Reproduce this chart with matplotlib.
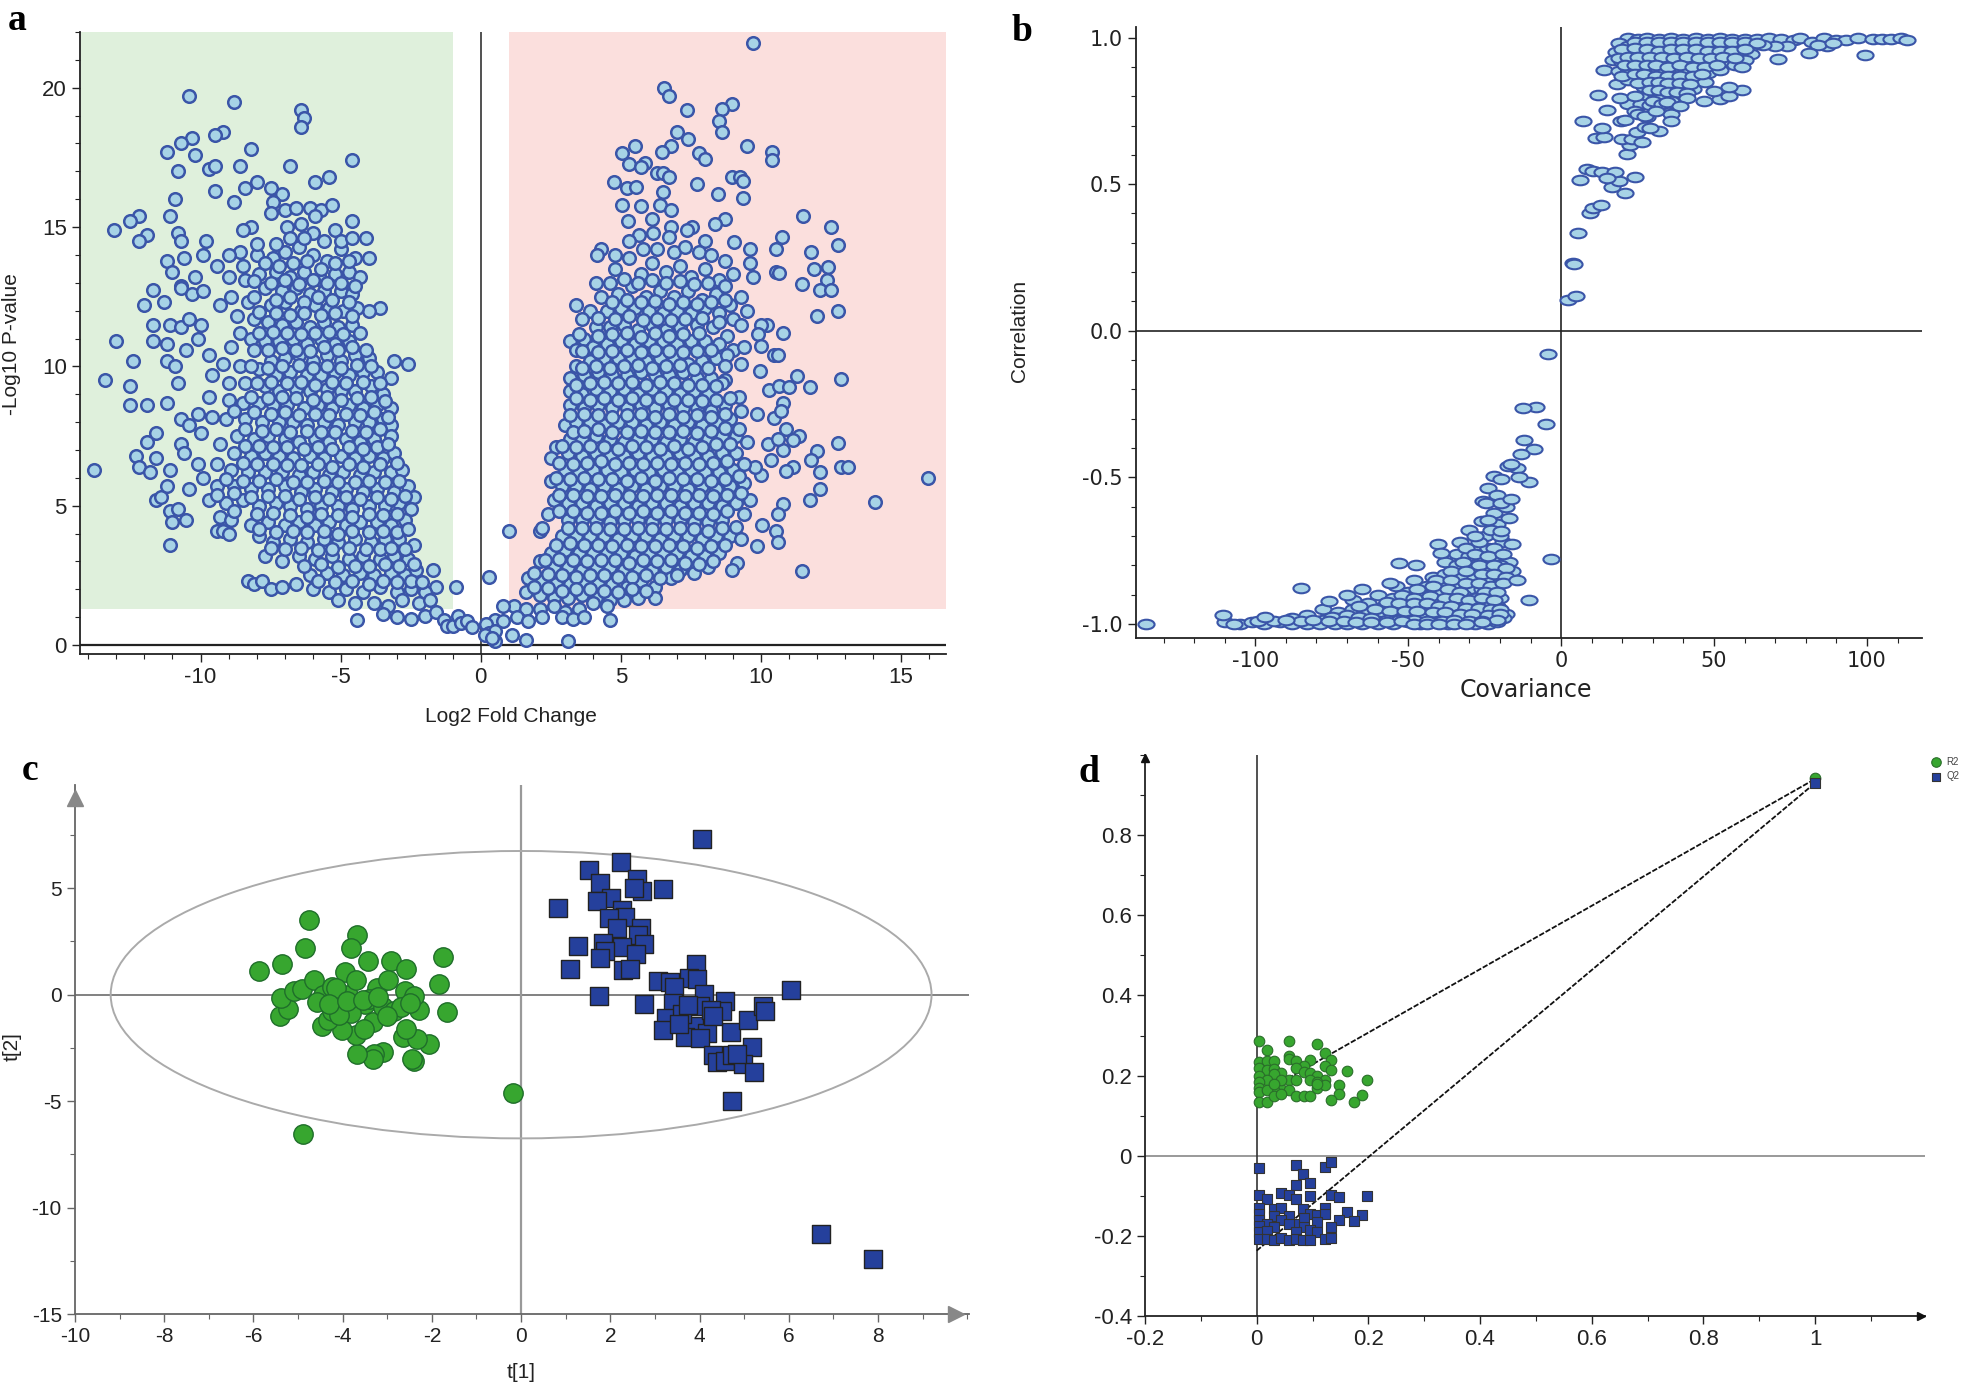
import matplotlib
matplotlib.use("Agg")
import matplotlib.pyplot as plt
from matplotlib.path import Path
from matplotlib.patches import Ellipse
from matplotlib.ticker import MultipleLocator, FixedLocator
from matplotlib.transforms import Affine2D

W, H = 1961, 1384

down_sparse = [(-10.4,19.7),(-8.8,19.5),(-6.4,19.2),(-6.3,18.9),(-6.4,18.6),(-9.2,18.4),(-9.5,18.3),(-10.3,18.2),(-10.7,18.0),(-11.2,17.7),(-10.2,17.6),(-8.2,17.8),(-4.6,17.4),(-6.8,17.2),(-8.6,17.2),(-9.7,17.1),(-9.5,17.2),(-10.8,17.0),(-5.4,16.8),(-5.9,16.6),(-8.0,16.6),(-8.4,16.4),(-7.5,16.4),(-9.5,16.3),(-7.1,16.2),(-10.9,16.0),(-8.8,15.9),(-12.2,15.4),(-12.5,15.2),(-11.1,15.4),(-13.1,14.9),(-11.9,14.7),(-12.2,14.5),(-10.8,14.8),(-10.7,14.5),(-8.2,15.0),(-8.5,14.9),(-9.8,14.5),(-4.6,15.2),(-5.2,14.9),(-4.1,14.6),(-4.0,13.9),(-11.2,13.8),(-10.6,13.9),(-11.0,13.4),(-9.9,14.0),(-10.2,13.2),(-10.7,12.9),(-10.7,12.8),(-11.7,12.75),(-12.0,12.2),(-11.3,12.3),(-3.6,12.1),(-4.0,12.0),(-10.3,12.6),(-9.9,12.7),(-11.7,11.5),(-11.1,11.5),(-10.7,11.4),(-10.4,11.7),(-10.0,11.5),(-11.7,10.9),(-13.0,10.9),(-11.2,10.8),(-10.1,11.0),(-10.5,10.6),(-12.4,10.2),(-11.2,10.2),(-10.9,10.0),(-3.1,10.2),(-2.6,10.1),(-3.2,9.6),(-13.4,9.5),(-12.5,9.3),(-10.8,9.4),(-12.5,8.6),(-11.9,8.6),(-11.2,8.7),(-10.7,8.1),(-10.1,8.3),(-10.4,7.9),(-10.0,7.6),(-11.6,7.6),(-11.9,7.3),(-10.7,7.2),(-10.6,6.9),(-12.3,6.8),(-11.6,6.7),(-12.2,6.4),(-11.8,6.2),(-13.8,6.3),(-11.1,6.3),(-10.1,6.5),(-11.6,5.2),(-11.4,5.3),(-11.2,5.7),(-10.4,5.6),(-11.1,4.8),(-10.8,4.9),(-11.0,4.4),(-10.5,4.5),(-11.1,3.6),(-9.4,4.1),(-9.2,4.1),(-9.0,4.0),(-8.3,2.3),(-8.1,2.2),(-7.8,2.3),(-7.5,2.0),(-7.1,2.1),(-6.6,2.2),(-4.4,0.9),(-1.7,2.7),(-1.6,2.1),(-0.9,2.1)]
down_core = [(-8.0,14.0),(-7.4,13.9),(-7.0,14.1),(-6.5,14.3),(-6.0,14.0),(-5.5,13.8),(-5.0,14.2),(-4.5,13.9),(-8.5,13.6),(-7.9,13.3),(-7.3,13.4),(-6.8,13.2),(-6.3,13.4),(-5.7,13.1),(-5.2,13.3),(-4.7,13.4),(-4.3,13.2),(-9.0,13.2),(-8.4,13.1),(-7.7,12.8),(-7.1,12.7),(-6.6,12.8),(-6.1,12.6),(-5.6,12.7),(-5.0,12.7),(-4.6,12.6),(-8.9,12.5),(-8.3,12.3),(-7.5,12.2),(-7.0,12.3),(-6.4,12.0),(-5.9,12.2),(-5.4,12.1),(-4.9,12.0),(-4.4,12.1),(-9.3,12.2),(-8.7,11.8),(-8.1,11.7),(-7.6,11.6),(-7.1,11.5),(-6.6,11.6),(-6.1,11.4),(-5.6,11.6),(-5.1,11.4),(-4.6,11.5),(-8.6,11.2),(-8.2,11.0),(-7.7,10.9),(-7.2,10.9),(-6.7,11.0),(-6.2,10.8),(-5.7,11.0),(-5.2,10.8),(-4.7,10.9),(-4.3,11.2),(-8.9,10.7),(-8.1,10.6),(-7.5,10.2),(-7.0,10.3),(-6.5,10.4),(-6.0,10.2),(-5.5,10.4),(-5.0,10.2),(-4.5,10.4),(-4.0,10.3),(-9.7,10.4),(-9.2,10.1),(-8.6,10.0),(-7.9,9.9),(-7.3,9.7),(-6.8,9.8),(-6.2,9.7),(-5.7,9.7),(-5.2,9.8),(-4.7,9.7),(-4.2,9.8),(-3.7,9.8),(-9.6,9.7),(-9.0,9.4),(-8.4,9.4),(-7.7,9.3),(-7.2,9.1),(-6.6,9.2),(-6.1,9.1),(-5.5,9.2),(-5.0,9.1),(-4.5,9.1),(-3.9,9.3),(-3.5,9.0),(-9.7,8.9),(-9.0,8.8),(-8.5,8.7),(-7.9,8.7),(-7.4,8.6),(-6.9,8.6),(-6.3,8.5),(-5.8,8.6),(-5.3,8.5),(-4.7,8.6),(-4.2,8.5),(-3.7,8.6),(-3.2,8.5),(-9.6,8.2),(-9.1,8.1),(-8.4,8.1),(-7.8,8.0),(-7.2,8.0),(-6.7,8.0),(-6.2,7.9),(-5.6,8.0),(-5.1,7.9),(-4.5,8.0),(-4.0,8.0),(-3.5,8.1),(-3.2,7.9),(-8.7,7.5),(-8.1,7.4),(-7.6,7.5),(-7.0,7.4),(-6.5,7.3),(-5.9,7.4),(-5.4,7.3),(-4.8,7.4),(-4.3,7.3),(-3.8,7.4),(-3.2,7.5),(-9.3,7.2),(-8.8,6.9),(-8.2,6.8),(-7.7,6.9),(-7.2,6.8),(-6.7,6.7),(-6.1,6.8),(-5.6,6.7),(-5.0,6.8),(-4.5,6.7),(-4.0,6.8),(-3.5,6.7),(-3.1,6.9),(-9.4,6.5),(-8.9,6.3),(-8.3,6.2),(-7.7,6.2),(-7.1,6.2),(-6.5,6.1),(-6.0,6.2),(-5.4,6.1),(-4.9,6.2),(-4.3,6.1),(-3.8,6.2),(-3.2,6.2),(-2.8,6.3),(-9.9,6.0),(-9.4,5.7),(-8.8,5.7),(-8.2,5.6),(-7.6,5.6),(-7.0,5.7),(-6.4,5.5),(-5.9,5.6),(-5.3,5.5),(-4.8,5.6),(-4.2,5.5),(-3.7,5.6),(-3.1,5.5),(-2.6,5.7),(-2.4,5.3),(-9.7,5.2),(-9.1,5.1),(-8.5,5.2),(-7.9,5.0),(-7.3,5.1),(-6.8,5.0),(-6.2,4.9),(-5.7,5.0),(-5.1,5.0),(-4.6,4.9),(-4.0,5.0),(-3.4,5.0),(-2.9,5.1),(-2.5,4.9),(-9.3,4.6),(-8.9,4.5),(-8.2,4.3),(-7.6,4.4),(-7.0,4.3),(-6.5,4.4),(-5.9,4.3),(-5.4,4.4),(-4.8,4.3),(-4.3,4.4),(-3.7,4.4),(-3.2,4.3),(-2.7,4.5),(-7.9,3.9),(-7.4,3.7),(-6.8,3.8),(-6.2,3.7),(-5.6,3.8),(-5.1,3.7),(-4.5,3.8),(-3.9,3.7),(-3.4,3.8),(-2.9,3.8),(-2.4,3.6),(-7.7,3.2),(-7.1,3.0),(-6.5,3.2),(-5.9,3.1),(-5.3,3.2),(-4.7,3.1),(-4.2,3.2),(-3.6,3.1),(-3.1,3.2),(-2.6,3.1),(-6.1,2.5),(-5.5,2.6),(-4.9,2.5),(-4.3,2.6),(-3.8,2.5),(-3.2,2.6),(-2.7,2.5),(-2.3,2.7),(-6.0,2.0),(-5.4,1.9),(-4.8,2.0),(-4.2,1.9),(-3.6,2.1),(-3.0,1.9),(-2.5,2.0),(-2.0,1.9),(-5.1,1.6),(-4.5,1.5),(-3.8,1.5),(-3.3,1.4),(-2.8,1.6),(-2.2,1.5),(-1.8,1.6),(-3.5,1.1),(-3.0,1.0),(-2.5,0.95),(-2.0,1.05),(-1.6,1.2),(-1.3,0.9),(-1.2,0.7),(-1.0,0.7),(-0.8,1.05),(-0.7,0.8),(-0.5,0.85),(-0.3,0.65)]
down_fill = [(-7.4,15.9),(-7.0,15.6),(-6.6,15.7),(-6.1,15.7),(-5.7,15.6),(-5.3,15.8),(-5.9,15.4),(-7.5,15.5),(-6.9,15.0),(-6.4,15.1),(-6.0,14.8),(-7.3,14.4),(-6.8,14.6),(-6.3,14.6),(-5.6,14.5),(-5.0,14.5),(-4.6,14.6),(-8.0,14.4),(-8.6,14.1),(-9.0,14.0),(-9.4,13.6),(-7.7,13.7),(-7.2,13.6),(-6.7,13.7),(-6.2,13.8),(-5.7,13.5),(-5.2,13.7),(-4.7,13.8),(-8.1,13.05),(-7.5,13.0),(-7.0,13.1),(-6.5,12.95),(-6.0,13.1),(-5.5,13.0),(-5.0,13.0),(-4.5,12.9),(-8.1,12.5),(-7.3,12.4),(-6.8,12.5),(-6.3,12.3),(-5.8,12.5),(-5.3,12.4),(-4.7,12.3),(-7.9,11.95),(-7.3,11.9),(-6.8,11.85),(-6.3,11.9),(-5.7,11.85),(-5.2,11.9),(-4.6,11.8),(-7.9,11.2),(-7.4,11.25),(-6.9,11.2),(-6.4,11.15),(-5.9,11.2),(-5.4,11.25),(-4.9,11.15),(-7.6,10.6),(-7.1,10.65),(-6.6,10.6),(-6.1,10.55),(-5.6,10.7),(-5.1,10.6),(-4.6,10.7),(-4.1,10.6),(-8.2,10.0),(-7.6,9.95),(-7.1,10.0),(-6.5,10.05),(-6.0,9.95),(-5.5,10.0),(-5.0,9.95),(-4.4,10.05),(-3.9,10.0),(-8.0,9.4),(-7.5,9.45),(-6.9,9.4),(-6.4,9.45),(-5.9,9.35),(-5.3,9.45),(-4.8,9.4),(-4.2,9.45),(-3.6,9.4),(-8.2,8.9),(-7.6,8.85),(-7.1,8.9),(-6.6,8.85),(-6.0,8.8),(-5.5,8.9),(-5.0,8.8),(-4.4,8.85),(-3.9,8.9),(-3.4,8.75),(-8.8,8.4),(-8.1,8.35),(-7.5,8.3),(-7.0,8.35),(-6.5,8.25),(-5.9,8.3),(-5.4,8.25),(-4.8,8.3),(-4.3,8.25),(-3.8,8.35),(-3.3,8.2),(-8.4,7.75),(-7.8,7.7),(-7.3,7.75),(-6.8,7.65),(-6.2,7.7),(-5.7,7.65),(-5.2,7.65),(-4.6,7.7),(-4.1,7.65),(-3.6,7.75),(-8.4,7.15),(-7.9,7.15),(-7.4,7.1),(-6.9,7.1),(-6.3,7.05),(-5.8,7.1),(-5.3,7.05),(-4.7,7.1),(-4.2,7.05),(-3.7,7.1),(-3.3,7.2),(-8.5,6.55),(-8.0,6.5),(-7.4,6.5),(-6.9,6.45),(-6.4,6.45),(-5.8,6.5),(-5.3,6.4),(-4.7,6.5),(-4.2,6.4),(-3.6,6.5),(-3.0,6.55),(-9.1,5.95),(-8.5,5.9),(-7.9,5.9),(-7.3,5.95),(-6.7,5.85),(-6.2,5.85),(-5.6,5.9),(-5.1,5.85),(-4.5,5.85),(-4.0,5.9),(-3.4,5.85),(-2.9,5.9),(-9.4,5.4),(-8.8,5.45),(-8.2,5.3),(-7.6,5.35),(-7.0,5.35),(-6.5,5.25),(-5.9,5.3),(-5.4,5.25),(-4.8,5.3),(-4.3,5.25),(-3.7,5.3),(-3.2,5.25),(-2.7,5.35),(-8.8,4.8),(-8.0,4.7),(-7.4,4.75),(-6.8,4.65),(-6.2,4.6),(-5.7,4.7),(-5.1,4.65),(-4.6,4.6),(-4.0,4.7),(-3.5,4.65),(-3.0,4.7),(-7.9,4.15),(-7.3,4.05),(-6.7,4.1),(-6.2,4.05),(-5.6,4.1),(-5.1,4.0),(-4.6,4.1),(-4.0,4.05),(-3.5,4.1),(-3.0,4.05),(-2.6,4.15),(-7.5,3.5),(-7.0,3.45),(-6.4,3.5),(-5.8,3.4),(-5.3,3.45),(-4.7,3.5),(-4.1,3.45),(-3.6,3.45),(-3.2,3.5),(-2.7,3.45),(-6.3,2.85),(-5.7,2.9),(-5.1,2.8),(-4.5,2.85),(-4.0,2.85),(-3.4,2.9),(-2.9,2.85),(-2.4,2.9),(-5.8,2.3),(-5.2,2.25),(-4.6,2.3),(-4.0,2.2),(-3.5,2.3),(-3.0,2.25),(-2.5,2.3),(-2.1,2.25)]
up_sparse = [(9.7,21.6),(6.55,20.0),(6.7,19.7),(7.35,19.2),(8.95,19.4),(8.6,19.25),(8.5,18.8),(8.6,18.4),(7.0,18.4),(7.4,18.15),(6.8,17.9),(9.5,17.9),(5.5,17.9),(5.05,17.65),(6.45,17.7),(7.8,17.65),(8.0,17.45),(10.4,17.7),(10.4,17.4),(5.3,17.25),(5.85,17.3),(5.7,17.15),(6.3,16.95),(6.5,16.95),(6.7,16.8),(8.95,16.8),(9.25,16.8),(9.35,16.65),(4.75,16.6),(7.7,16.55),(5.2,16.4),(5.55,16.45),(8.45,16.2),(6.5,16.25),(9.35,16.05),(5.05,15.8),(5.7,15.75),(6.4,15.8),(6.8,15.6),(6.1,15.3),(5.25,15.2),(8.7,15.3),(11.5,15.4),(8.35,15.1),(12.5,15.0),(7.55,15.0),(6.8,15.0),(7.35,14.9),(6.15,14.8),(5.65,14.7),(6.7,14.65),(10.75,14.65),(8.0,14.5),(9.05,14.45),(9.6,14.2),(10.55,14.2),(12.75,14.35),(11.8,14.1),(4.3,14.2),(4.15,14.0),(11.9,13.5),(12.4,13.55),(10.55,13.4),(10.65,13.35),(9.6,13.7),(9.7,13.2),(11.45,12.95),(12.35,13.1),(12.1,12.75),(12.5,12.75),(12.75,12.0),(12.0,11.8),(10.2,11.5),(10.0,11.5),(10.8,11.2),(9.9,11.15),(10.0,10.75),(10.45,10.4),(10.6,10.4),(9.95,9.85),(11.3,9.65),(12.85,9.55),(10.3,9.15),(10.65,9.3),(11.0,9.25),(11.75,9.25),(10.8,8.7),(9.85,8.3),(10.45,8.15),(10.7,8.4),(10.9,7.75),(11.35,7.5),(12.75,7.25),(11.15,7.35),(10.8,7.0),(10.25,7.2),(10.6,7.4),(12.0,6.95),(11.8,6.65),(12.85,6.4),(13.1,6.4),(11.15,6.4),(10.9,6.25),(12.1,6.2),(15.95,6.0),(10.35,6.65),(10.0,6.1),(9.8,6.4),(12.1,5.6),(11.75,5.2),(14.05,5.15),(10.8,5.05),(10.6,4.7),(10.05,4.3),(10.55,4.1),(10.6,3.7),(9.85,3.55),(11.45,2.65),(9.15,2.95),(8.95,2.7),(1.0,4.1),(2.1,4.1),(2.2,4.2),(0.3,2.45),(4.6,0.9),(3.1,0.15),(1.6,0.2),(1.1,0.35),(0.5,0.15)]
up_core = [(3.4,12.2),(3.9,12.0),(4.3,12.5),(4.1,13.0),(4.8,13.5),(5.3,13.9),(5.7,13.3),(6.1,13.7),(6.6,13.4),(7.1,13.6),(7.5,13.2),(8.0,13.5),(8.5,13.1),(9.0,13.3),(4.9,12.6),(5.4,12.9),(5.9,12.5),(6.4,12.7),(6.9,12.5),(7.4,12.7),(7.9,12.4),(8.4,12.6),(8.9,12.2),(9.3,12.5),(4.5,12.0),(5.0,12.1),(5.5,12.1),(6.0,12.0),(6.5,11.9),(7.0,12.0),(7.5,11.9),(8.0,12.1),(8.5,11.9),(9.0,11.7),(9.5,12.0),(3.2,10.9),(3.7,11.0),(4.1,11.4),(4.6,11.4),(5.1,11.5),(5.6,11.3),(6.1,11.5),(6.6,11.3),(7.1,11.4),(7.7,11.5),(8.3,11.4),(8.8,11.1),(9.3,11.5),(3.4,10.6),(4.0,10.7),(4.5,10.8),(5.0,10.9),(5.5,10.8),(6.0,10.9),(6.5,10.9),(7.0,10.8),(7.5,10.9),(8.0,10.9),(8.5,10.8),(9.0,10.6),(9.4,10.7),(3.4,10.0),(3.9,10.2),(4.4,10.3),(4.9,10.3),(5.4,10.3),(5.9,10.2),(6.4,10.3),(6.9,10.3),(7.4,10.1),(7.9,10.2),(8.4,10.3),(9.3,10.1),(3.2,9.6),(3.7,9.7),(4.2,9.8),(4.7,9.7),(5.2,9.7),(5.7,9.8),(6.2,9.7),(6.7,9.7),(7.2,9.8),(7.7,9.6),(8.2,9.6),(8.7,9.5),(3.2,9.1),(3.6,9.0),(4.1,9.2),(4.6,9.1),(5.1,9.2),(5.6,9.0),(6.1,9.2),(6.6,9.1),(7.1,9.0),(7.6,9.1),(8.1,9.0),(8.6,9.4),(3.2,8.6),(3.7,8.5),(4.2,8.6),(4.7,8.5),(5.2,8.5),(5.7,8.6),(6.2,8.5),(6.7,8.6),(7.2,8.5),(7.7,8.5),(8.2,8.4),(8.7,8.6),(9.2,8.9),(3.0,7.9),(3.4,8.0),(3.9,8.0),(4.4,7.9),(4.9,8.0),(5.4,8.0),(5.9,7.9),(6.4,8.0),(6.9,7.9),(7.4,8.0),(7.9,7.9),(8.4,8.0),(8.9,8.1),(9.3,8.4),(3.2,7.4),(3.6,7.4),(4.1,7.5),(4.6,7.4),(5.1,7.3),(5.6,7.4),(6.1,7.4),(6.6,7.3),(7.1,7.4),(7.6,7.3),(8.1,7.4),(8.6,7.5),(9.1,7.5),(9.5,7.3),(2.7,7.1),(3.1,6.9),(3.6,6.8),(4.1,6.9),(4.6,6.8),(5.1,6.8),(5.6,6.9),(6.1,6.8),(6.6,6.8),(7.1,6.9),(7.6,6.8),(8.1,6.8),(8.6,6.9),(9.1,6.9),(2.5,6.7),(3.0,6.3),(3.5,6.2),(4.0,6.3),(4.5,6.3),(5.0,6.2),(5.5,6.3),(6.0,6.2),(6.5,6.3),(7.0,6.2),(7.5,6.3),(8.0,6.2),(8.5,6.2),(9.0,6.3),(9.4,6.5),(2.5,5.9),(2.9,5.7),(3.4,5.7),(3.9,5.6),(4.4,5.7),(4.9,5.6),(5.4,5.7),(5.9,5.6),(6.4,5.7),(6.9,5.7),(7.4,5.6),(7.9,5.7),(8.4,5.6),(8.9,5.7),(9.4,5.8),(2.6,5.2),(3.1,5.1),(3.6,5.1),(4.1,5.0),(4.6,5.1),(5.1,5.1),(5.6,5.0),(6.1,5.1),(6.6,5.1),(7.1,5.0),(7.6,5.1),(8.1,5.1),(8.6,5.0),(9.1,5.1),(9.6,5.2),(2.4,4.7),(3.1,4.5),(3.6,4.5),(4.1,4.5),(4.6,4.4),(5.1,4.5),(5.6,4.5),(6.1,4.4),(6.6,4.5),(7.1,4.5),(7.6,4.4),(8.1,4.4),(8.6,4.5),(9.4,4.7),(2.9,3.9),(3.4,3.9),(3.9,3.9),(4.4,3.9),(4.9,3.8),(5.4,3.9),(5.9,3.9),(6.4,3.8),(6.9,3.9),(7.4,3.9),(7.9,3.8),(8.4,3.9),(8.9,3.9),(9.3,3.8),(2.5,3.3),(3.0,3.4),(3.5,3.3),(4.0,3.3),(4.5,3.3),(5.0,3.3),(5.5,3.2),(6.0,3.3),(6.5,3.3),(7.0,3.3),(7.5,3.2),(8.0,3.2),(8.5,3.3),(2.1,3.0),(2.6,2.8),(3.1,2.8),(3.6,2.7),(4.1,2.8),(4.6,2.8),(5.1,2.7),(5.6,2.8),(6.1,2.7),(6.6,2.8),(7.1,2.7),(7.6,2.6),(8.1,2.8),(1.7,2.4),(2.2,2.3),(2.7,2.2),(3.2,2.2),(3.7,2.3),(4.2,2.2),(4.7,2.2),(5.2,2.1),(5.7,2.3),(6.2,2.1),(6.8,2.4),(1.6,1.9),(2.1,1.8),(2.6,1.7),(3.1,1.7),(3.6,1.8),(4.1,1.7),(4.6,1.6),(5.1,1.6),(5.6,1.7),(6.2,1.7),(1.2,1.4),(1.6,1.3),(2.1,1.3),(2.6,1.4),(3.0,1.2),(3.5,1.3),(4.0,1.5),(4.5,1.4),(0.8,1.4),(1.3,1.0),(1.7,0.85),(2.2,1.0),(2.9,1.0),(3.3,0.95),(3.7,1.0),(0.5,0.9),(0.8,0.85),(0.2,0.75),(0.3,0.45),(0.5,0.5),(0.15,0.35),(0.4,0.25)]
up_fill = [(4.8,14.0),(5.3,14.5),(5.8,14.2),(6.3,14.2),(6.9,14.1),(7.3,14.3),(7.8,14.1),(8.2,14.0),(8.7,13.8),(4.6,13.0),(5.1,13.15),(5.6,13.0),(6.1,13.1),(6.6,13.0),(7.1,13.05),(7.6,12.95),(8.1,13.0),(8.7,12.9),(4.7,12.3),(5.2,12.4),(5.7,12.3),(6.2,12.35),(6.7,12.25),(7.2,12.3),(7.7,12.25),(8.2,12.3),(8.7,12.4),(3.6,11.7),(4.2,11.75),(4.8,11.7),(5.3,11.8),(5.8,11.65),(6.3,11.7),(6.8,11.65),(7.3,11.7),(7.9,11.75),(8.5,11.6),(3.5,11.15),(4.2,11.1),(4.7,11.15),(5.2,11.2),(5.7,11.05),(6.2,11.2),(6.7,11.1),(7.2,11.15),(7.8,11.2),(3.6,10.55),(4.2,10.5),(4.7,10.55),(5.2,10.6),(5.7,10.5),(6.2,10.6),(6.7,10.55),(7.2,10.5),(7.7,10.55),(8.2,10.6),(8.8,10.4),(3.6,9.95),(4.1,10.0),(4.6,9.95),(5.1,10.0),(5.6,10.05),(6.1,9.95),(6.6,10.0),(7.1,10.05),(7.6,9.9),(8.1,9.95),(8.7,10.0),(3.4,9.35),(3.9,9.4),(4.4,9.45),(4.9,9.4),(5.4,9.45),(5.9,9.35),(6.4,9.45),(6.9,9.4),(7.4,9.35),(7.9,9.35),(8.4,9.3),(3.4,8.85),(3.9,8.8),(4.4,8.85),(4.9,8.8),(5.4,8.85),(5.9,8.8),(6.4,8.85),(6.9,8.8),(7.4,8.8),(7.9,8.75),(8.4,8.8),(8.9,8.85),(3.2,8.25),(3.7,8.3),(4.2,8.25),(4.7,8.2),(5.2,8.25),(5.7,8.3),(6.2,8.2),(6.7,8.3),(7.2,8.2),(7.7,8.25),(8.2,8.2),(8.7,8.3),(3.3,7.65),(3.7,7.7),(4.2,7.75),(4.7,7.65),(5.2,7.65),(5.7,7.7),(6.2,7.65),(6.7,7.65),(7.2,7.7),(7.7,7.6),(8.2,7.7),(8.7,7.8),(9.2,7.75),(2.9,7.15),(3.4,7.1),(3.9,7.15),(4.4,7.1),(4.9,7.05),(5.4,7.15),(5.9,7.1),(6.4,7.05),(6.9,7.15),(7.4,7.05),(7.9,7.1),(8.4,7.2),(8.9,7.2),(2.8,6.55),(3.3,6.5),(3.8,6.55),(4.3,6.6),(4.8,6.5),(5.3,6.55),(5.8,6.5),(6.3,6.55),(6.8,6.5),(7.3,6.55),(7.8,6.5),(8.3,6.55),(8.8,6.6),(2.7,6.0),(3.2,5.95),(3.7,6.0),(4.2,5.95),(4.7,5.95),(5.2,5.9),(5.7,6.0),(6.2,5.9),(6.7,6.0),(7.2,5.95),(7.7,5.95),(8.2,5.9),(8.7,5.95),(9.2,6.05),(2.8,5.4),(3.3,5.4),(3.8,5.35),(4.3,5.35),(4.8,5.4),(5.3,5.35),(5.8,5.35),(6.3,5.4),(6.8,5.4),(7.3,5.35),(7.8,5.4),(8.3,5.35),(8.8,5.4),(9.3,5.45),(2.8,4.8),(3.3,4.8),(3.8,4.75),(4.3,4.75),(4.8,4.8),(5.3,4.75),(5.8,4.8),(6.3,4.75),(6.8,4.8),(7.3,4.75),(7.8,4.75),(8.3,4.7),(8.8,4.8),(3.1,4.2),(3.6,4.2),(4.1,4.2),(4.6,4.15),(5.1,4.15),(5.6,4.2),(6.1,4.15),(6.6,4.15),(7.1,4.2),(7.6,4.15),(8.1,4.1),(8.6,4.2),(9.1,4.25),(2.7,3.6),(3.2,3.65),(3.7,3.6),(4.2,3.6),(4.7,3.55),(5.2,3.6),(5.7,3.55),(6.2,3.55),(6.7,3.6),(7.2,3.55),(7.7,3.5),(8.2,3.55),(8.7,3.6),(2.3,3.05),(2.8,3.1),(3.3,3.05),(3.8,3.0),(4.3,3.05),(4.8,3.05),(5.3,2.95),(5.8,3.05),(6.3,3.0),(6.8,3.05),(7.3,2.95),(7.8,2.9),(8.3,3.0),(1.9,2.6),(2.4,2.55),(2.9,2.5),(3.4,2.45),(3.9,2.5),(4.4,2.5),(4.9,2.45),(5.4,2.45),(5.9,2.5),(6.4,2.4),(7.0,2.5),(1.9,2.1),(2.4,2.05),(2.9,1.95),(3.4,2.0),(3.9,2.0),(4.4,1.95),(4.9,1.9),(5.4,2.0),(5.9,1.95)]

pos_cov_top = [(22,1.0),(25,.995),(28,1.0),(32,.995),(36,1.0),(40,.995),(44,1.0),(48,.995),(52,1.0),(56,.995),(60,.995),(64,.995),(68,1.0),(72,.995),(76,.99),(78,1.0),(82,.985),(86,1.0),(90,.99),(93,.99),(97,1.0),(102,.995),(105,.995),(108,.995),(111,1.0),(113,.99),(74,.97),(70,.97),(66,.975),(87,.97),(84,.975),(89,.98)]
pos_cov_core = [(19,.98),(22,.97),(26,.975),(30,.97),(34,.98),(38,.975),(42,.98),(46,.97),(50,.97),(54,.975),(58,.97),(62,.97),(18,.95),(21,.945),(24,.95),(28,.95),(31,.945),(35,.95),(39,.945),(43,.945),(47,.945),(51,.945),(55,.95),(59,.94),(62,.945),(17,.925),(20,.915),(23,.92),(26,.925),(30,.92),(33,.92),(37,.915),(41,.92),(45,.92),(49,.915),(53,.92),(57,.905),(60,.925),(14,.89),(19,.885),(22,.895),(25,.89),(29,.885),(32,.89),(36,.885),(40,.89),(44,.885),(48,.88),(52,.89),(59,.9),(18.4,.843),(22,.855),(26,.86),(29,.865),(33,.86),(37,.86),(41,.855),(45,.86),(47,.85),(27,.83),(30,.835),(33,.84),(36,.83),(40,.83),(43,.825),(28,.8),(31,.805),(34,.8),(37,.805),(40,.795),(22,.775),(26,.775),(29,.77),(32,.79),(35,.77),(38,.77),(24,.75),(28,.73),(33,.755),(36,.74)]
pos_cov_fill = [(24,.985),(28,.985),(32,.985),(36,.985),(40,.985),(44,.985),(48,.985),(52,.985),(56,.985),(60,.985),(64,.98),(20,.96),(24,.965),(28,.96),(32,.955),(36,.96),(40,.96),(44,.96),(48,.955),(52,.955),(56,.955),(60,.96),(19,.93),(22,.935),(25,.935),(29,.935),(33,.935),(37,.93),(41,.935),(45,.93),(49,.93),(53,.935),(57,.93),(21,.905),(24,.905),(28,.905),(31,.905),(35,.9),(39,.905),(43,.9),(47,.9),(51,.905),(20,.87),(24,.875),(27,.875),(31,.87),(35,.87),(39,.87),(43,.87),(46,.875),(25,.845),(29,.85),(32,.85),(35,.845),(39,.845),(42,.84),(29,.82),(32,.82),(35,.815),(38,.815),(41,.81),(30,.785),(33,.775),(36,.785)]
pos_cov_sparse = [(2.4,.105),(4.9,.12),(3.9,.23),(4.3,.228),(5.5,.335),(9.4,.40),(10.4,.417),(13,.428),(20.8,.47),(16.5,.49),(6.3,.514),(19,.512),(24,.525),(8.5,.55),(10.4,.545),(13.4,.543),(17.7,.543),(15,.52),(21.6,.603),(22.6,.633),(11.4,.657),(14,.66),(20,.654),(23.2,.654),(26.3,.645),(13.4,.69),(7,.716),(24.7,.677),(32,.68),(27.3,.696),(29,.692),(19.6,.716),(20.8,.72),(36,.716),(15,.752),(25,.74),(27.3,.732),(31,.748),(12,.804),(19.2,.793),(24.3,.802),(46.7,.784),(51.8,.79),(55,.8),(59,.82),(55,.83),(50,.818),(41,.795),(34.5,.78),(39,.768),(99.3,.942),(71,.928),(81,.947)]
neg_cov_sparse = [(-4.3,-.08),(-8.3,-.26),(-12.4,-.265),(-4.9,-.317),(-12,-.373),(-9,-.404),(-13,-.42),(-10.4,-.517),(-14.5,-.467),(-17.4,-.46),(-16.5,-.456),(-13.8,-.498),(-22,-.494),(-19.6,-.506),(-24,-.538),(-21,-.56),(-25.7,-.58),(-24.7,-.588),(-19.6,-.588),(-16.5,-.574),(-17,-.64),(-24,-.644),(-19.6,-.683),(-28,-.70),(-16,-.729),(-40.4,-.729),(-39.4,-.757),(-3.3,-.777),(-53,-.793),(-47.5,-.8),(-14.5,-.85),(-85,-.876),(-10.4,-.92),(-135.8,-1.0),(-110.6,-.97),(-96.7,-.975),(-70,-.903),(-65,-.882),(-56,-.859),(-76,-.922)]
neg_cov_core = [(-22,-.62),(-18,-.6),(-26,-.65),(-21,-.66),(-30,-.68),(-25,-.7),(-33,-.72),(-29,-.74),(-24,-.74),(-19,-.72),(-34,-.76),(-30,-.77),(-26,-.78),(-22,-.77),(-17,-.79),(-38,-.79),(-34,-.8),(-29,-.81),(-24,-.81),(-20,-.8),(-16,-.82),(-42,-.84),(-38,-.83),(-33,-.84),(-28,-.84),(-24,-.85),(-20,-.84),(-48,-.85),(-44,-.87),(-39,-.86),(-34,-.87),(-30,-.88),(-26,-.88),(-21,-.87),(-54,-.87),(-50,-.89),(-45,-.9),(-41,-.89),(-36,-.9),(-32,-.9),(-28,-.91),(-23,-.9),(-20,-.91),(-60,-.9),(-55,-.91),(-51,-.92),(-46,-.93),(-42,-.92),(-38,-.93),(-33,-.93),(-29,-.94),(-25,-.93),(-21,-.94),(-68,-.92),(-63,-.93),(-58,-.94),(-54,-.95),(-49,-.94),(-44,-.95),(-40,-.95),(-35,-.96),(-31,-.96),(-26,-.96),(-22,-.96),(-18,-.965),(-78,-.95),(-73,-.96),(-68,-.95),(-64,-.96),(-59,-.97),(-55,-.975),(-50,-.97),(-46,-.975),(-41,-.975),(-37,-.98),(-32,-.98),(-28,-.98),(-23,-.98),(-19,-.98),(-88,-.98),(-83,-.97),(-78,-.985),(-73,-.98),(-69,-.985),(-64,-.985),(-60,-.99),(-55,-.995),(-110,-.995),(-105,-1.0),(-101,-.995),(-97,-1.0),(-92,-.995),(-88,-1.0),(-83,-1.0),(-79,-1.0),(-74,-1.0),(-70,-1.0),(-65,-1.0),(-60,-1.0),(-55,-1.0),(-50,-.995),(-46,-1.0),(-42,-.995),(-37,-1.0),(-33,-.995),(-28,-1.0),(-24,-1.0),(-21,-.995)]
neg_cov_fill = [(-23,-.68),(-20,-.7),(-27,-.72),(-31,-.74),(-22,-.74),(-28,-.76),(-24,-.77),(-19,-.76),(-32,-.79),(-27,-.8),(-22,-.8),(-18,-.81),(-36,-.82),(-31,-.82),(-26,-.83),(-22,-.83),(-18,-.84),(-41,-.85),(-36,-.85),(-31,-.86),(-27,-.86),(-23,-.87),(-19,-.86),(-47,-.88),(-42,-.87),(-37,-.88),(-33,-.89),(-25,-.89),(-21,-.89),(-52,-.9),(-48,-.91),(-43,-.905),(-38,-.91),(-34,-.91),(-30,-.92),(-26,-.91),(-22,-.92),(-57,-.925),(-53,-.93),(-48,-.93),(-44,-.93),(-40,-.94),(-36,-.94),(-31,-.945),(-27,-.945),(-23,-.95),(-20,-.95),(-66,-.94),(-61,-.95),(-56,-.955),(-51,-.955),(-47,-.955),(-42,-.96),(-38,-.96),(-33,-.965),(-29,-.965),(-24,-.97),(-20,-.965),(-75,-.975),(-70,-.97),(-66,-.975),(-62,-.98),(-57,-.985),(-53,-.985),(-48,-.985),(-44,-.99),(-39,-.99),(-35,-.985),(-30,-.99),(-26,-.99),(-21,-.985),(-85,-.99),(-81,-.985),(-76,-.99),(-71,-.99),(-67,-.995),(-62,-.995),(-57,-.995),(-52,-.99),(-48,-1.0),(-44,-1.0),(-40,-1.0),(-35,-1.0),(-31,-1.0),(-26,-.995),(-107,-1.0),(-99,-.99),(-94,-.99),(-90,-.985)]

green_t1 = [-5.87,-5.35,-4.75,-4.84,-3.67,-3.82,-3.44,-2.92,-2.58,-1.76,-1.83,-1.66,-2.28,-2.07,-2.4,-2.44,-2.65,-2.33,-2.58,-3.09,-3.29,-3.33,-3.67,-3.71,-4.02,-4.46,-4.33,-3.31,-3.53,-5.4,-5.22,-5.39,-5.08,-4.91,-4.65,-4.44,-4.23,-3.88,-3.95,-3.71,-3.24,-2.99,-2.61,-2.4,-3.5,-3.81,-4.23,-4.58,-4.09,-3.4,-3.1,-2.85,-2.7,-3.0,-2.5,-4.15,-4.3,-3.9,-3.55,-3.2,-0.18,-4.89]
green_t2 = [1.1,1.45,3.5,2.2,2.8,2.2,1.6,1.6,1.2,1.75,0.5,-0.8,-0.7,-2.3,-3.1,-3.0,-2.0,-2.1,-1.6,-2.7,-2.8,-3.0,-2.8,-1.9,-1.65,-1.45,-1.2,-1.3,-1.6,-1.0,-0.65,-0.15,0.15,0.25,0.7,0.0,0.35,0.0,1.05,0.7,0.3,0.7,0.15,-0.05,-0.45,-0.85,-0.75,-0.35,-0.95,-0.2,-0.6,-0.75,-0.6,-1.0,-0.4,0.3,-0.45,-0.3,-0.25,-0.1,-4.6,-6.55]
blue_t1 = [4.06,2.23,1.52,2.6,1.76,2.7,3.17,2.54,2.02,1.69,0.82,2.26,2.34,1.97,2.16,2.68,2.62,2.75,2.26,1.83,1.87,1.76,1.27,1.1,2.57,2.28,2.44,1.75,2.75,3.91,3.06,3.34,3.77,3.95,3.43,4.09,4.58,3.41,4.02,4.51,3.24,3.17,3.88,3.67,4.16,4.02,4.7,5.08,5.43,5.47,6.04,5.18,4.3,4.4,4.56,4.72,4.98,5.22,4.72,6.73,7.88,3.6,3.75,4.25,3.55,4.3,4.85]
blue_t2 = [7.33,6.25,5.85,5.45,5.25,4.85,4.95,5.0,4.55,4.4,4.05,4.0,3.65,3.6,3.15,3.15,2.8,2.4,2.25,2.45,2.05,1.7,2.3,1.2,1.9,1.15,1.2,-0.05,-0.45,1.45,0.65,0.6,0.8,0.75,0.35,0.05,-0.3,-0.4,-0.55,-0.75,-1.1,-1.65,-1.45,-2.0,-1.8,-2.05,-1.75,-1.2,-0.55,-0.75,0.2,-2.45,-2.85,-3.15,-3.1,-2.85,-3.25,-3.65,-5.0,-11.25,-12.4,-0.9,-0.5,-0.7,-1.4,-1.0,-2.8]

r2_x = [.005,.058,.018,.108,.122,.058,.058,.07,.096,.134,.005,.018,.031,.005,.085,.122,.07,.134,.161,.018,.031,.044,.085,.096,.108,.005,.031,.018,.058,.07,.096,.122,.108,.198,.148,.005,.005,.005,.044,.031,.058,.018,.148,.188,.134,.174,.07,.085,.096,.005,.018,.031,.044,.108,.122,.044,.031,.108,1.0]
r2_y = [.286,.286,.264,.28,.257,.25,.242,.237,.24,.24,.235,.237,.237,.22,.225,.225,.22,.214,.212,.214,.216,.207,.21,.207,.2,.2,.205,.189,.189,.189,.19,.188,.184,.19,.176,.184,.17,.158,.166,.163,.163,.163,.155,.151,.14,.135,.15,.15,.15,.133,.133,.15,.153,.17,.176,.19,.18,.178,.943]
q2_x = [.005,.07,.122,.134,.083,.096,.07,.005,.018,.044,.058,.07,.096,.134,.148,.198,.005,.031,.044,.083,.122,.005,.031,.058,.096,.108,.161,.188,.005,.018,.044,.07,.085,.122,.148,.174,.005,.031,.058,.085,.108,.134,.005,.018,.07,.096,.108,.005,.018,.031,.044,.058,.07,.083,.096,.122,.134,1.0]
q2_y = [-.03,-.022,-.029,-.016,-.045,-.068,-.072,-.098,-.107,-.093,-.098,-.107,-.1,-.098,-.103,-.1,-.13,-.133,-.13,-.133,-.13,-.145,-.15,-.15,-.145,-.148,-.14,-.148,-.16,-.17,-.16,-.17,-.155,-.145,-.16,-.163,-.175,-.178,-.17,-.178,-.165,-.177,-.19,-.187,-.19,-.185,-.19,-.208,-.208,-.21,-.205,-.21,-.208,-.21,-.21,-.208,-.205,.929]
link_x = [0.0, 1.0]
r2_link_y = [.149, .94]
q2_link_y = [-.237, .93]

a_xticks = [-10, -5, 0, 5, 10, 15]
a_yticks = [0, 5, 10, 15, 20]
b_xticks = [-100, -50, 0, 50, 100]
b_yticks = [-1.0, -0.5, 0.0, 0.5, 1.0]
c_xticks = [-10, -8, -6, -4, -2, 0, 2, 4, 6, 8]
c_yticks = [-15, -10, -5, 0, 5]
d_xticks = [-0.2, 0, 0.2, 0.4, 0.6, 0.8, 1]
d_yticks = [-0.4, -0.2, 0, 0.2, 0.4, 0.6, 0.8]

plt.rcParams['font.family'] = ['Liberation Sans', 'DejaVu Sans']
plt.rcParams['axes.unicode_minus'] = False
fig = plt.figure(figsize=(W/100, H/100), dpi=100)

def box(l, t, r, b):
    return fig.add_axes([l/W, 1-b/H, (r-l)/W, (b-t)/H])

def style(ax, xlim, ylim, xt, yt, xm, ym, color='#222222', ls=15, tlen=6, xlabels=None, ylabels=None, family=None):
    ax.set_xlim(*xlim); ax.set_ylim(*ylim)
    ax.patch.set_alpha(0)
    ax.spines['top'].set_visible(False); ax.spines['right'].set_visible(False)
    for s in ('left', 'bottom'):
        ax.spines[s].set_color(color); ax.spines[s].set_linewidth(1.3)
    ax.xaxis.set_major_locator(FixedLocator(xt)); ax.yaxis.set_major_locator(FixedLocator(yt))
    ax.xaxis.set_minor_locator(MultipleLocator(xm)); ax.yaxis.set_minor_locator(MultipleLocator(ym))
    ax.tick_params(which='major', length=tlen, width=1, color=color, labelsize=ls, labelcolor='#222222')
    ax.tick_params(which='minor', length=tlen*0.55, width=0.8, color=color)
    if xlabels: ax.set_xticklabels(xlabels)
    if ylabels: ax.set_yticklabels(ylabels)
    if family:
        for t in ax.get_xticklabels() + ax.get_yticklabels():
            t.set_family(family)

def pxlabel(ax, axis, text, px, py, **kw):
    bb = ax.get_position()
    cx = (px/W - bb.x0)/bb.width
    cy = ((1-py/H) - bb.y0)/bb.height
    if axis == 'x':
        ax.set_xlabel(text, va='center', ha='center', **kw); ax.xaxis.set_label_coords(cx, cy, transform=ax.transAxes)
    else:
        ax.set_ylabel(text, va='center', ha='center', **kw); ax.yaxis.set_label_coords(cx, cy, transform=ax.transAxes)

def panel(letter, px, py):
    fig.text(px/W, 1-py/H, letter, family='Liberation Serif', weight='bold', fontsize=27, ha='left', va='baseline', color='black')

EDGE = '#3a55a8'
FACE = '#a7d3e6'

# --- a: volcano
ax = box(80, 32, 946, 654)
style(ax, (-14.3, 16.6), (-0.32, 22), a_xticks, a_yticks, 1, 1, ls=16)
ax.axvspan(-14.25, -1, ymin=(1.3+0.32)/22.32, ymax=1, color='#dff0dc', lw=0, zorder=0)
ax.axvspan(1, 16.6, ymin=(1.3+0.32)/22.32, ymax=1, color='#fbdfdd', lw=0, zorder=0)
ax.axhline(0, color='#222222', lw=1.6, zorder=1)
ax.axvline(0, color='#222222', lw=1.1, zorder=1)
for pts in (down_sparse, down_core, down_fill, up_sparse, up_core, up_fill):
    ax.scatter([p[0] for p in pts], [p[1] for p in pts], s=82, facecolor=FACE, edgecolor=EDGE, linewidth=1.8, zorder=3, clip_on=False)
pxlabel(ax, 'x', 'Log2 Fold Change', 511, 716, fontsize=15, color='#222222')
pxlabel(ax, 'y', '-Log10 P-value', 12, 344, fontsize=15, color='#222222')

# --- b: S-plot
ellipse = Path.unit_circle().transformed(Affine2D().scale(1.35, 0.8))
ax = box(1136, 27, 1922, 638)
style(ax, (-139, 118), (-1.048, 1.036), b_xticks, b_yticks, 10, 0.1, ls=15,
      ylabels=['-1.0', '-0.5', '0.0', '0.5', '1.0'], xlabels=['-100', '-50', '0', '50', '100'], family='DejaVu Sans')
ax.axhline(0, color='#222222', lw=1.2, zorder=1)
ax.axvline(0, color='#222222', lw=1.2, zorder=1)
for pts in (neg_cov_core, neg_cov_fill, neg_cov_sparse, pos_cov_top, pos_cov_core, pos_cov_fill, pos_cov_sparse):
    ax.scatter([p[0] for p in pts], [p[1] for p in pts], s=135, marker=ellipse, facecolor=FACE, edgecolor=EDGE, linewidth=1.5, zorder=3, clip_on=False)
pxlabel(ax, 'x', 'Covariance', 1526, 690, fontsize=17, color='#222222', family='DejaVu Sans')
pxlabel(ax, 'y', 'Correlation', 1020, 331, fontsize=15, color='#222222')

GREEN = '#37a62f'
BLUE = '#25409c'

# --- c: score plot
ax = box(75, 785, 969, 1314)
style(ax, (-10, 10.04), (-15, 9.85), c_xticks, c_yticks, 1, 2.5, color='#666666', ls=15)
ax.axhline(0, color='#777777', lw=1.3, zorder=1)
ax.axvline(0, color='#999999', lw=1.6, zorder=1)
ax.add_patch(Ellipse((0, 0), 2*9.2, 2*6.75, fill=False, edgecolor='#aaaaaa', lw=1.4, zorder=1))
ax.scatter(green_t1, green_t2, s=195, marker='o', facecolor=GREEN, edgecolor='#1f6e2a', linewidth=1.0, zorder=3)
ax.scatter(blue_t1, blue_t2, s=170, marker='s', facecolor=BLUE, edgecolor='#222222', linewidth=1.0, zorder=4)
ax.plot(0.985, 0, marker='>', ms=11, color='#888888', transform=ax.transAxes, clip_on=False, zorder=5)
ax.plot(0, 0.975, marker='^', ms=11, color='#888888', transform=ax.transAxes, clip_on=False, zorder=5)
pxlabel(ax, 'x', 't[1]', 521, 1372, fontsize=15, color='#222222')
pxlabel(ax, 'y', 't[2]', 12, 1047, fontsize=15, color='#222222')

# --- d: permutation plot
ax = box(1145, 755, 1925, 1316)
style(ax, (-0.2, 1.197), (-0.4, 1.0), d_xticks, d_yticks, 0.1, 0.1, ls=16, xlabels=['-0.2', '0', '0.2', '0.4', '0.6', '0.8', '1'], ylabels=['-0.4', '-0.2', '0', '0.2', '0.4', '0.6', '0.8'])
ax.axhline(0, color='#888888', lw=1.2, zorder=1)
ax.axvline(0, color='#333333', lw=1.2, zorder=1)
ax.scatter(r2_x, r2_y, s=58, marker='o', facecolor=GREEN, edgecolor='#2a6e2a', linewidth=0.8, zorder=3, label='R2')
ax.scatter(q2_x, q2_y, s=50, marker='s', facecolor=BLUE, edgecolor='#333333', linewidth=0.8, zorder=4, label='Q2')
ax.plot(link_x, r2_link_y, color='#111111', lw=1.3, ls=(0, (3, 1)), zorder=2)
ax.plot(link_x, q2_link_y, color='#111111', lw=1.3, ls=(0, (3, 1)), zorder=2)
ax.plot(0.995, 0, marker='>', ms=6, color='#111111', transform=ax.transAxes, clip_on=False, zorder=5)
ax.plot(0, 0.995, marker='^', ms=6, color='#111111', transform=ax.transAxes, clip_on=False, zorder=5)
ax.legend(loc='upper left', bbox_to_anchor=(1926/W, 1-757/H), bbox_transform=fig.transFigure, frameon=False,
          fontsize=7, handletextpad=0.1, labelspacing=0.45, borderpad=0, borderaxespad=0, markerscale=0.9, labelcolor='#444444')

panel('a', 8, 30)
panel('b', 1012, 41)
panel('c', 22, 780)
panel('d', 1078, 782)

fig.savefig('out.png', dpi=100, facecolor='white')
